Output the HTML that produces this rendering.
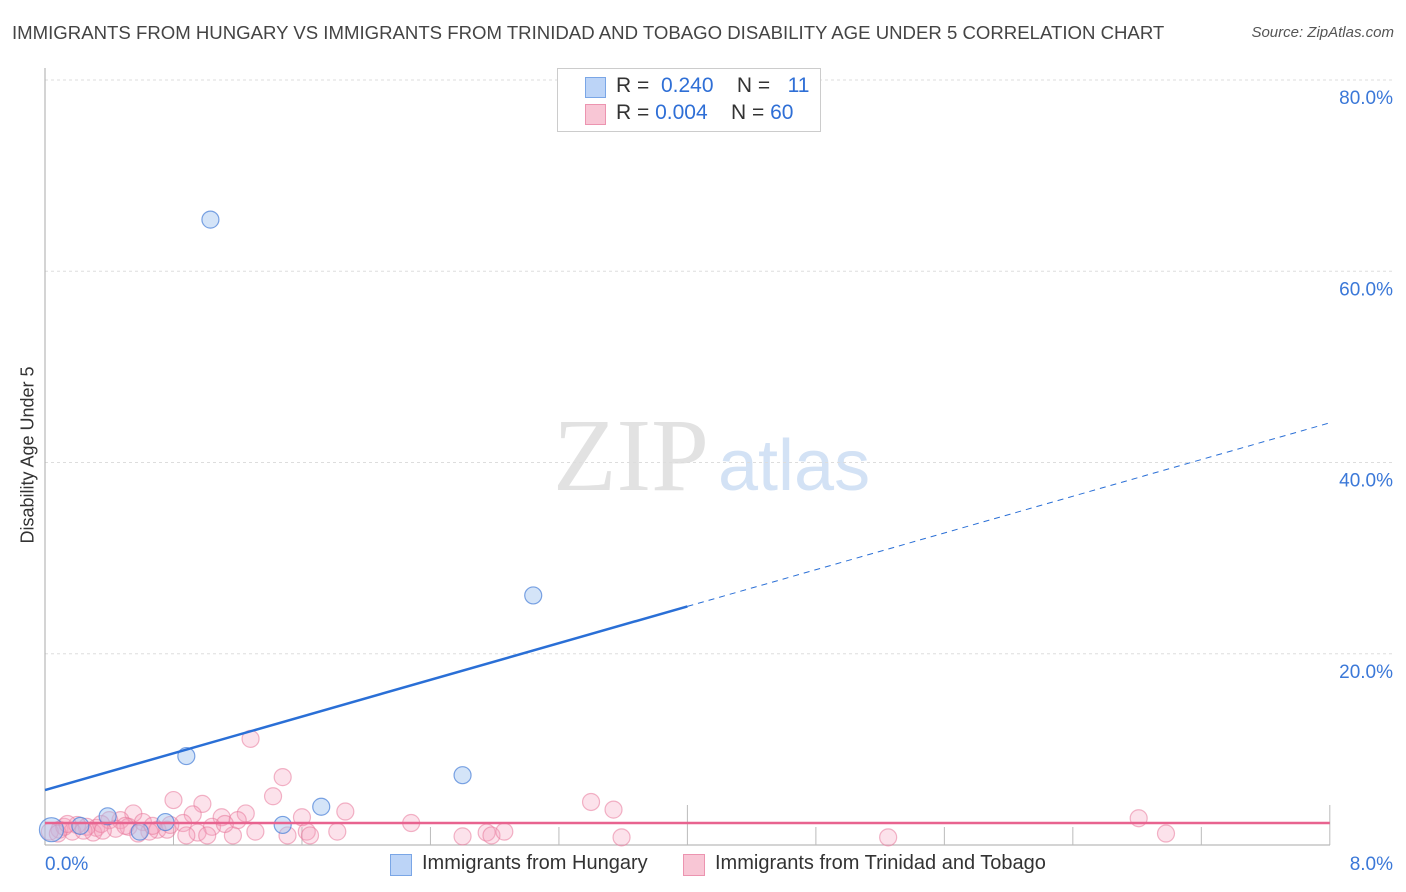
<!DOCTYPE html>
<html><head><meta charset="utf-8">
<style>
body{margin:0;background:#fff;font-family:"Liberation Sans",sans-serif;}
#wrap{position:relative;width:1406px;height:892px;overflow:hidden;}
.t{position:absolute;white-space:nowrap;}
</style></head><body>
<div id="wrap">
<div class="t" style="left:12px;top:22px;font-size:18.6px;color:#444;">IMMIGRANTS FROM HUNGARY VS IMMIGRANTS FROM TRINIDAD AND TOBAGO DISABILITY AGE UNDER 5 CORRELATION CHART</div>
<div class="t" style="right:12px;top:24px;font-size:15px;color:#555;font-style:italic;">Source: ZipAtlas.com</div>
<div class="t" style="left:28px;top:455px;font-size:18px;color:#333;transform:translate(-50%,-50%) rotate(-90deg);">Disability Age Under 5</div>
<svg id="plot" width="1406" height="892" style="position:absolute;left:0;top:0"></svg>
<div style="position:absolute;left:557px;top:68px;width:262px;height:62px;border:1px solid #ccc;background:#fff;font-size:21px;">
 <div style="position:absolute;left:27px;top:8px;width:19px;height:19px;background:#bcd4f7;border:1px solid #7aa6e6;"></div>
 <div class="t" style="left:58px;top:5px;color:#333;">R = <span style="color:#2f6fd6">&nbsp;0.240</span>&nbsp;&nbsp;&nbsp; N = &nbsp;<span style="color:#2f6fd6">&nbsp;11</span></div>
 <div style="position:absolute;left:27px;top:35px;width:19px;height:19px;background:#f8c6d5;border:1px solid #ec94b0;"></div>
 <div class="t" style="left:58px;top:32px;color:#333;">R = <span style="color:#2f6fd6">0.004</span>&nbsp;&nbsp;&nbsp; N = <span style="color:#2f6fd6">60</span></div>
</div>
<div style="position:absolute;left:0;top:852px;width:1406px;font-size:20px;color:#333;">
 <div style="position:absolute;left:390px;top:2px;width:20px;height:20px;background:#bcd4f7;border:1px solid #7aa6e6;"></div>
 <div class="t" style="left:422px;top:0px;">Immigrants from Hungary</div>
 <div style="position:absolute;left:683px;top:2px;width:20px;height:20px;background:#f8c6d5;border:1px solid #ec94b0;"></div>
 <div class="t" style="left:715px;top:0px;">Immigrants from Trinidad and Tobago</div>
</div>
</div>
<script>
const xTicks=[0,8];
const xTickLabels=["0.0%","8.0%"];
const yTicks=[20,40,60,80];
const yTickLabels=["20.0%","40.0%","60.0%","80.0%"];
const hungaryX=[0.04,0.22,0.39,0.59,0.75,0.88,1.03,1.48,1.72,2.60,3.04];
const hungaryY=[1.6,2.0,3.0,1.4,2.4,9.3,65.4,2.1,4.0,7.3,26.1];
const trinidadX=[1.28,0.80,0.98,1.48,1.42,1.87,0.55,1.10,1.25,0.92,1.20,1.60,0.47,0.61,1.04,0.86,1.31,1.17,1.51,1.63,1.82,0.95,1.01,0.88,0.70,0.65,0.32,0.26,0.09,0.03,0.17,0.30,0.40,0.52,0.76,1.65,2.28,2.60,2.75,2.78,2.86,3.40,3.54,3.59,5.25,6.81,6.98,0.12,0.20,0.35,0.44,0.58,0.67,0.08,0.24,0.50,0.78,0.14,0.36,1.12];
const trinidadY=[11.1,4.7,4.3,7.1,5.1,3.5,3.3,2.9,3.3,3.2,2.6,2.9,2.6,2.4,1.9,2.3,1.4,1.0,1.0,1.4,1.4,1.3,1.0,1.0,1.6,1.4,1.8,1.9,1.6,1.4,1.4,1.3,2.6,1.9,1.6,1.0,2.3,0.9,1.3,1.0,1.4,4.5,3.7,0.8,0.8,2.8,1.2,1.9,2.1,2.2,1.7,1.2,2.0,1.2,1.5,2.0,2.1,2.2,1.5,2.2];
const hungaryTrend=[5.75,4.8]; // intercept, slope
const trinidadTrend=[2.3,0];
const solidEnd=4.0;

const X=v=>45+v*160.6, Y=v=>845-v*9.5625;
const svg=document.getElementById('plot');
const NS='http://www.w3.org/2000/svg';
function mk(tag,attrs){const e=document.createElementNS(NS,tag);for(const k in attrs)e.setAttribute(k,attrs[k]);svg.appendChild(e);return e;}
let w=mk('text',{x:553,y:490,'font-family':'Liberation Serif',"font-size":104,fill:'#e2e2e2'});w.textContent='ZIP';


let w2=mk('text',{x:718,y:490,'font-family':'Liberation Sans',"font-size":72,fill:'#d3e2f5'});w2.textContent='atlas';


yTicks.forEach((t,i)=>{
 const g=mk('line',{x1:45,x2:1393,y1:Y(t),y2:Y(t),stroke:'#ddd','stroke-dasharray':'3,3'});
 
 
 const tx=mk('text',{x:1393,y:Y(t)+24,'text-anchor':'end','font-size':19,fill:'#3b78d8','font-family':'Liberation Sans'});
 tx.textContent=yTickLabels[i];
 
 
});
let ax=mk('line',{x1:45,x2:45,y1:68,y2:845,stroke:'#aaa'});


let bx=mk('line',{x1:45,x2:1330,y1:845,y2:845,stroke:'#aaa'});


for(let v=0.8;v<8.01;v+=0.8){
 const major=Math.abs(v-4)<0.01||Math.abs(v-8)<0.01;
 const tk=mk('line',{x1:X(v),x2:X(v),y1:major?805:827,y2:845,stroke:'#bbb'});
 
 
}
xTicks.forEach((t,i)=>{
 const tx=mk('text',{x:i?1393:45,y:870,'text-anchor':i?'end':'start','font-size':19,fill:'#3b78d8','font-family':'Liberation Sans'});
 tx.textContent=xTickLabels[i];
 
 
});
trinidadX.forEach((x,i)=>{
 const c=mk('circle',{cx:X(x),cy:Y(trinidadY[i]),r:8.5,fill:'rgba(244,160,188,0.3)',stroke:'rgba(232,120,155,0.55)','stroke-width':1.2});
 
 
});
hungaryX.forEach((x,i)=>{
 const c=mk('circle',{cx:X(x),cy:Y(hungaryY[i]),r:i===0?12:8.5,fill:'rgba(160,196,240,0.45)',stroke:'rgba(70,125,215,0.7)','stroke-width':1.2});
 
 
});
let l1=mk('line',{x1:X(0),y1:Y(hungaryTrend[0]),x2:X(solidEnd),y2:Y(hungaryTrend[0]+hungaryTrend[1]*solidEnd),stroke:'#2a6fd6','stroke-width':2.5});


let l2=mk('line',{x1:X(solidEnd),y1:Y(hungaryTrend[0]+hungaryTrend[1]*solidEnd),x2:X(8),y2:Y(hungaryTrend[0]+hungaryTrend[1]*8),stroke:'#2a6fd6','stroke-width':1,'stroke-dasharray':'6,5'});


let l3=mk('line',{x1:X(0),y1:Y(trinidadTrend[0]),x2:X(8),y2:Y(trinidadTrend[0]+trinidadTrend[1]*8),stroke:'#e8638f','stroke-width':2.5});


</script>
</body></html>
